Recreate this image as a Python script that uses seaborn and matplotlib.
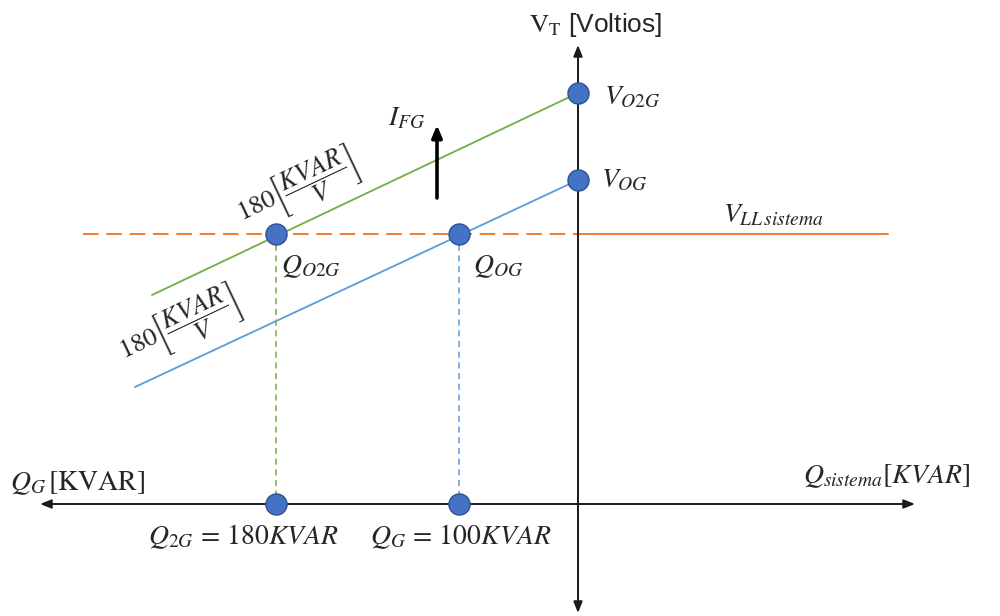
import matplotlib
matplotlib.use("Agg")
import matplotlib.pyplot as plt
import numpy as np
import pandas as pd
import seaborn as sns

# Diagram coordinates: origin where the Q axis meets the V_T axis,
# Q grows to the left as negative x, voltage grows upward.
q_points = [-302, -119]            # Q_O2G, Q_OG on the V_LL line
v_intercepts = [411, 324]          # V_O2G, V_OG on the V_T axis
line_start_x = [-426, -443]        # left end of each droop line
line_start_y = [209, 117]
v_ll = 270                         # system line voltage
v_ll_dash_start = -495
v_ll_end = 310
q_axis = [-538, 337]
v_axis = [-109, 459]
ifg_arrow = [306, 379]
ifg_x = -141

GREEN = "#70AD47"
BLUE = "#5B9BD5"
ORANGE = "#ED7D31"
DOT = "#4472C4"
DOT_EDGE = "#2F528F"
AXIS = "#1a1a1a"

sns.set_theme(style="white")
plt.rcParams["mathtext.fontset"] = "stix"
plt.rcParams["font.family"] = ["DejaVu Serif"]

fig = plt.figure(figsize=(10, 6.16), dpi=100)
ax = fig.add_axes([0, 0, 1, 1])
ax.set_xlim(-578, 422)
ax.set_ylim(-112, 504)
ax.axis("off")


def segment(x, y, color, lw, dashes=None):
    sns.lineplot(x=x, y=y, color=color, lw=lw, estimator=None, sort=False, ax=ax)
    line = ax.lines[-1]
    if dashes:
        line.set_dashes(dashes)
    return line


# Droop lines (green: O2G, blue: OG)
segment([line_start_x[0], 0], [line_start_y[0], v_intercepts[0]], GREEN, 1.3)
segment([line_start_x[1], 0], [line_start_y[1], v_intercepts[1]], BLUE, 1.3)

# System voltage line: dashed on the generator side, solid beyond the axis
segment([v_ll_dash_start, 0], [v_ll, v_ll], ORANGE, 1.4, [8, 4])
segment([0, v_ll_end], [v_ll, v_ll], ORANGE, 1.4)

# Vertical projections to the Q axis
for qx, col in zip(q_points, [GREEN, BLUE]):
    segment([qx, qx], [v_ll, 0], col, 1.1, [4, 3])

# Axes with arrows
ax.annotate("", xy=(q_axis[0], 0), xytext=(q_axis[1], 0),
            arrowprops=dict(arrowstyle="<|-|>,head_length=0.55,head_width=0.22",
                            color=AXIS, lw=1.4, shrinkA=0, shrinkB=0))
ax.annotate("", xy=(0, v_axis[0]), xytext=(0, v_axis[1]),
            arrowprops=dict(arrowstyle="<|-|>,head_length=0.55,head_width=0.22",
                            color=AXIS, lw=1.4, shrinkA=0, shrinkB=0))

# Field current arrow
ax.annotate("", xy=(ifg_x, ifg_arrow[1]), xytext=(ifg_x, ifg_arrow[0]),
            arrowprops=dict(arrowstyle="-|>,head_length=0.6,head_width=0.25",
                            color="black", lw=2.6, shrinkA=0, shrinkB=0))

# Marked operating points
pts = pd.DataFrame({
    "x": q_points + [0, 0] + q_points,
    "y": [v_ll, v_ll] + v_intercepts + [0, 0],
})
sns.scatterplot(data=pts, x="x", y="y", s=230, color=DOT, edgecolor=DOT_EDGE,
                linewidth=1.0, zorder=5, ax=ax)

fs = 20
ax.text(18, 479, r"$\mathrm{V_T}$ [Voltios]", fontsize=19, ha="center", va="center",
        family=["Liberation Sans"])
ax.text(26, 407, r"$V_{O2G}$", fontsize=fs, ha="left", va="center")
ax.text(23, 324, r"$V_{OG}$", fontsize=fs, ha="left", va="center")
ax.text(-171, 386, r"$I_{FG}$", fontsize=fs, ha="center", va="center")
ax.text(145, 289, r"$V_{LL\,sistema}$", fontsize=fs, ha="left", va="center")
ax.text(-297, 238, r"$Q_{O2G}$", fontsize=fs, ha="left", va="center")
ax.text(-105, 238, r"$Q_{OG}$", fontsize=fs, ha="left", va="center")
ax.text(-568, 21, r"$Q_G\,[\mathrm{KVAR}]$", fontsize=fs, ha="left", va="center")
ax.text(225, 28, r"$Q_{sistema}[KVAR]$", fontsize=fs, ha="left", va="center")
ax.text(-430, -33, r"$Q_{2G}\,=\,180KVAR$", fontsize=fs, ha="left", va="center")
ax.text(-208, -33, r"$Q_G\,=\,100KVAR$", fontsize=fs, ha="left", va="center")

angle = np.degrees(np.arctan2(v_intercepts[0] - line_start_y[0], -line_start_x[0]))
slope_label = r"$180\left[\dfrac{KVAR}{V}\right]$"
ax.text(-280, 314, slope_label, fontsize=19, ha="center", va="center",
        rotation=angle, rotation_mode="anchor")
ax.text(-398, 176, slope_label, fontsize=19, ha="center", va="center",
        rotation=angle, rotation_mode="anchor")

fig.savefig("out.png", dpi=100)
